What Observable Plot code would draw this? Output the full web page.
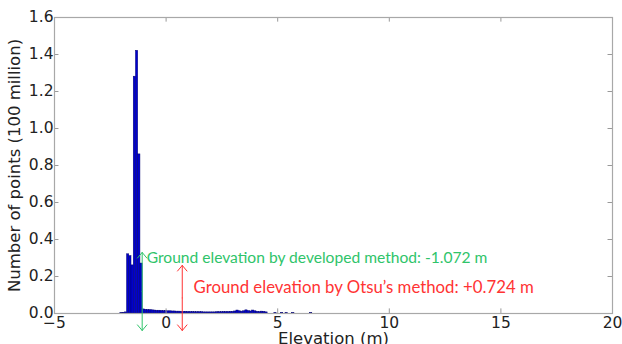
<!DOCTYPE html>
<html><head><meta charset="utf-8">
<script src="https://cdn.jsdelivr.net/npm/d3@7"></script>
<script src="https://cdn.jsdelivr.net/npm/@observablehq/plot@0.6"></script>
<style>body{margin:0;background:#fff;}</style>
</head><body><div id="chart"></div>
<script>
// Histogram of elevations (bin start in m, count in 100 million points)
const binWidth = 0.1;
const binStart = [-2.05,-1.95,-1.85,-1.75,-1.65,-1.55,-1.45,-1.35,-1.25,-1.15,
  -1.05,-0.95,-0.85,-0.75,-0.65,-0.55,-0.45,-0.35,-0.25,-0.15,-0.05,
  0.05,0.15,0.25,0.35,0.45,0.55,0.65,0.75,0.85,0.95,1.05,1.15,1.25,1.35,1.45,1.55,
  1.65,1.75,1.85,1.95,2.05,2.15,2.25,2.35,2.45,2.55,2.65,2.75,2.85,2.95,3.05,3.15,
  3.25,3.35,3.45,3.55,3.65,3.75,3.85,3.95,4.05,4.15,4.25,4.35,4.45,
  4.85,5.15,5.35,5.65,6.45];
const binCount = [0.002,0.004,0.006,0.32,0.31,0.26,1.28,1.42,0.86,0.27,
  0.022,0.020,0.019,0.018,0.017,0.016,0.015,0.015,0.014,0.013,0.013,
  0.012,0.012,0.011,0.011,0.010,0.010,0.009,0.009,0.009,0.008,0.008,0.008,0.007,0.007,0.007,0.007,
  0.006,0.006,0.006,0.006,0.006,0.006,0.007,0.007,0.007,0.008,0.008,0.008,0.009,0.009,0.011,0.016,
  0.012,0.010,0.012,0.017,0.013,0.011,0.016,0.012,0.009,0.008,0.010,0.009,0.006,
  0.002,0.003,0.002,0.002,0.002];
const xTicks = [-5,0,5,10,15,20];
const yTicks = [0,0.2,0.4,0.6,0.8,1.0,1.2,1.4,1.6];

// Annotations (elevations in m, vertical extents in 100 million)
const developedElev = -1.072;
const otsuElev = 0.724;
const developedText = "Ground elevation by developed method: -1.072 m";
const otsuText = "Ground elevation by Otsu\u2019s method: +0.724 m";
const developedArrow = [{x: developedElev, top: 0.33, bottom: -0.092}];
const otsuArrow = [{x: otsuElev, top: 0.26, bottom: -0.092}];
const developedLabel = [{x: -0.87, y: 0.30, text: developedText}];
const otsuLabel = [{x: 1.23, y: 0.14, text: otsuText}];

const bins = binStart.map((s, i) => ({x1: s, x2: s + binWidth, y: binCount[i]}));
const GREEN = "#2fc46a", RED = "#ff3333";

function dblArrow(data, color) {
  const mid = d => (d.top + d.bottom) / 2;
  const opts = {x1: "x", x2: "x", y1: mid, stroke: color, strokeWidth: 1, headLength: 11, headAngle: 80};
  return [Plot.arrow(data, {...opts, y2: "top"}), Plot.arrow(data, {...opts, y2: "bottom"})];
}

const chart = Plot.plot({
  width: 622, height: 344,
  marginTop: 17, marginBottom: 31, marginLeft: 54, marginRight: 10,
  style: {fontFamily: "DejaVu Sans", fontSize: "15.5px", color: "#222", background: "#fff"},
  x: {domain: [-5, 20]},
  y: {domain: [0, 1.6]},
  marks: [
    Plot.rectY(bins, {x1: "x1", x2: "x2", y: "y", fill: "#0000d0", stroke: "#00006e", strokeWidth: 0.5}),
    Plot.ruleX(xTicks, {x: d => d, y1: 0, y2: 0.025, stroke: "#999"}),
    Plot.ruleX(xTicks, {x: d => d, y1: 1.6, y2: 1.575, stroke: "#999"}),
    Plot.ruleY(yTicks, {y: d => d, x1: -5, x2: -4.8, stroke: "#999"}),
    Plot.ruleY(yTicks, {y: d => d, x1: 20, x2: 19.8, stroke: "#999"}),
    Plot.frame({stroke: "#a8a8a8", strokeWidth: 1.2}),
    Plot.axisX({ticks: xTicks, tickSize: 0, tickPadding: 3, label: "Elevation (m)", labelAnchor: "center", labelArrow: "none", labelOffset: 30}),
    Plot.axisY({ticks: yTicks, tickSize: 0, tickPadding: 1, tickFormat: d3.format(".1f"), label: "Number of points (100 million)", labelAnchor: "center", labelArrow: "none", labelOffset: 46}),
    ...dblArrow(developedArrow, GREEN),
    ...dblArrow(otsuArrow, RED),
    Plot.text(developedLabel, {x: "x", y: "y", text: "text", fill: GREEN, textAnchor: "start", fontFamily: "Lato", fontSize: 15.6}),
    Plot.text(otsuLabel, {x: "x", y: "y", text: "text", fill: RED, textAnchor: "start", fontFamily: "Lato", fontSize: 16.8})
  ]
});
chart.style.overflow = "visible";
document.getElementById("chart").appendChild(chart);
chart.querySelectorAll("g[aria-label='x-axis label'] text, g[aria-label='y-axis label'] text").forEach(t => t.setAttribute("font-size", "16.5px"));
</script>
</body></html>
